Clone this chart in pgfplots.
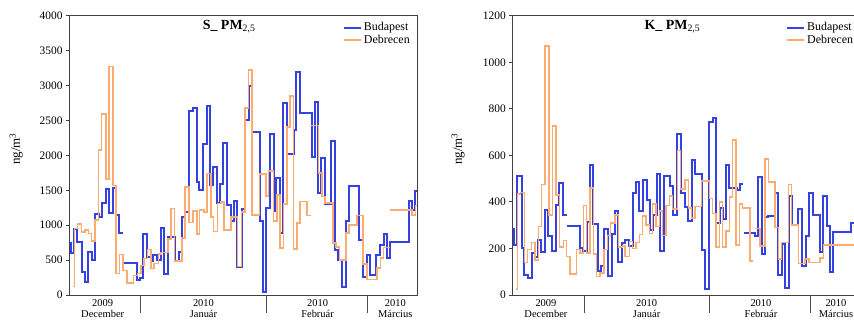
\documentclass[border=0pt]{standalone}
\usepackage{fontspec}
\setmainfont{Liberation Serif}
\usepackage{pgfplots}
\pgfplotsset{compat=1.18}
\definecolor{budablue}{RGB}{52,66,226}
\definecolor{debrorange}{RGB}{250,172,115}
\pgfplotsset{
 myaxis/.style={
  scale only axis, width=348bp, height=279.3bp, anchor=south west,
  axis line style={draw=black!75, line width=0.9bp},
  tick align=outside, xtick pos=bottom, ytick pos=left,
  major tick length=3bp,
  /pgf/number format/assume math mode=true,
  /pgf/number format/set thousands separator={},
  scaled y ticks=false,
  yticklabel style={font=\fontsize{11.5}{12}\selectfont},
  x tick style={draw=none},
  y tick style={line width=0.8bp, draw=black!75},
  xticklabel style={align=center, font=\fontsize{10.5}{11.5}\selectfont, inner sep=1bp},
  legend style={draw=none, fill=none, font=\fontsize{12}{13}\selectfont,
    at={(rel axis cs:0.994,0.99)}, anchor=north east, row sep=-1.5bp},
  legend cell align=left,
  ylabel style={at={(axis description cs:-0.152,0.523)}, anchor=center, font=\fontsize{13}{14}\selectfont},
  unbounded coords=jump, clip=false,
 },
}
\begin{document}
\begin{tikzpicture}
\useasboundingbox (0,0) rectangle (854bp,320bp);
\begin{axis}[myaxis, at={(69bp,25bp)},
  xmin=207, xmax=1250, ymin=0, ymax=4000, ytick={0,500,...,4000},
  xtick={308,610,952,1185},
  xticklabels={{2009\\December},{2010\\Január},{2010\\Február},{2010\\Március}},
  ylabel={ng/m\textsuperscript{3}}]
\addplot[const plot, draw=budablue, line width=2bp, line join=miter] coordinates {(207,740)(213,600)(222,940)(232,765)(245,335)(255,190)(265,620)(275,500)(285,1155)(297,1110)(307,1320)(317,1520)(328,1180)(340,1530)(348,1140)(358,890)(370,890)(370,nan)(372,455)(410,215)(420,250)(430,870)(442,540)(452,490)(458,580)(470,500)(482,960)(493,300)(505,830)(525,480)(537,620)(545,1120)(555,1190)(567,2630)(578,2680)(590,1620)(598,1510)(610,2160)(620,2700)(630,1570)(640,1840)(650,1313)(660,1590)(670,2170)(682,1290)(692,1060)(703,1350)(712,400)(724,1230)(735,2510)(745,3000)(755,2330)(778,1060)(788,50)(798,1250)(808,2310)(820,1210)(828,1680)(840,890)(848,2750)(860,2020)(880,2360)(888,3190)(900,2610)(935,1980)(943,2770)(953,1460)(963,1960)(973,1300)(993,2200)(1005,640)(1013,500)(1025,110)(1037,1060)(1047,1560)(1077,790)(1088,260)(1100,570)(1110,290)(1128,570)(1140,710)(1150,870)(1160,530)(1170,760)(1225,1350)(1236,1220)(1245,1490)(1250,1490)};
\addlegendentry{Budapest}
\addplot[const plot, draw=debrorange, line width=1.6bp, line join=miter] coordinates {(220,120)(223,950)(233,1020)(245,900)(255,930)(265,880)(275,770)(285,1070)(295,2080)(305,2590)(317,1660)(327,3270)(338,1570)(348,310)(358,580)(368,350)(380,170)(400,280)(412,310)(422,420)(432,520)(442,650)(452,380)(462,450)(475,590)(483,610)(503,800)(513,1240)(523,490)(545,820)(555,1550)(567,1040)(578,1200)(590,870)(598,1220)(612,1190)(620,1740)(632,1120)(640,910)(652,1310)(662,1330)(672,930)(692,1120)(712,410)(724,1190)(735,2680)(745,3220)(755,1150)(778,1730)(798,1420)(805,1780)(820,1060)(830,1430)(840,670)(850,1300)(860,2410)(870,2850)(880,660)(890,1030)(900,1340)(920,1140)(932,1140)(932,nan)(933,2430)(955,1745)(965,1408)(975,1315)(998,745)(1008,690)(1018,500)(1037,890)(1047,1000)(1070,1140)(1088,440)(1100,220)(1130,390)(1140,530)(1150,680)(1168,680)(1168,nan)(1170,1220)(1235,1150)(1245,1280)(1250,1280)};
\addlegendentry{Debrecen}
\node[anchor=center] at (rel axis cs:0.46,0.96) {\fontsize{14}{16}\selectfont{\bfseries S\_ PM}\textsubscript{2,5}};
\draw[black!70, line width=0.6bp] (axis cs:420,0) -- ([yshift=-18bp]axis cs:420,0) (axis cs:797,0) -- ([yshift=-18bp]axis cs:797,0) (axis cs:1100,0) -- ([yshift=-18bp]axis cs:1100,0);
\end{axis}
\begin{axis}[myaxis, at={(512.3bp,25bp)},
  xmin=247, xmax=1291, ymin=0, ymax=1200, ytick={0,200,...,1200},
  xtick={348,650,993,1218},
  xticklabels={{2009\\December},{2010\\Január},{2010\\Február},{2010\\Március}},
  ylabel={ng/m\textsuperscript{3}}, ylabel style={at={(axis description cs:-0.156,0.523)}}]
\addplot[const plot, draw=budablue, line width=2bp, line join=miter] coordinates {(247,285)(252,215)(262,511)(275,200)(283,85)(293,75)(305,180)(315,165)(323,235)(333,185)(345,365)(355,255)(365,190)(378,385)(388,480)(400,345)(410,345)(410,nan)(411,295)(450,200)(460,190)(470,315)(480,560)(490,305)(505,105)(512,125)(522,285)(535,80)(545,260)(555,360)(565,140)(575,225)(585,235)(598,210)(608,440)(618,485)(628,360)(640,495)(650,410)(660,280)(670,345)(680,520)(690,190)(702,510)(720,470)(730,345)(742,690)(752,440)(765,380)(775,320)(785,580)(795,520)(815,195)(825,25)(838,745)(848,760)(858,310)(870,375)(880,325)(888,560)(898,460)(920,450)(930,475)(940,475)(940,nan)(941,265)(975,255)(985,505)(995,175)(1005,335)(1015,340)(1035,440)(1045,85)(1055,220)(1065,30)(1077,425)(1085,300)(1105,370)(1115,125)(1127,255)(1137,440)(1150,345)(1170,185)(1180,425)(1192,295)(1200,100)(1210,270)(1262,310)(1291,310)};
\addlegendentry{Budapest}
\addplot[const plot, draw=debrorange, line width=1.6bp, line join=miter] coordinates {(258,25)(262,435)(272,440)(283,140)(293,195)(305,225)(315,150)(325,295)(335,475)(345,1070)(357,345)(367,725)(378,430)(388,205)(400,235)(410,165)(420,90)(440,195)(450,180)(460,385)(470,180)(480,460)(490,175)(500,80)(510,95)(522,195)(532,255)(542,310)(555,345)(565,205)(578,210)(585,165)(598,230)(608,200)(618,225)(628,260)(638,340)(648,300)(658,265)(668,390)(678,295)(688,360)(698,255)(708,385)(718,425)(728,370)(742,620)(752,455)(765,495)(775,375)(785,330)(795,380)(815,490)(838,415)(848,350)(858,205)(868,400)(878,205)(888,275)(898,420)(908,665)(918,215)(928,390)(938,375)(960,145)(970,145)(970,nan)(975,285)(990,210)(1005,585)(1015,485)(1035,290)(1045,155)(1055,225)(1075,475)(1085,300)(1105,135)(1125,155)(1137,140)(1170,160)(1180,215)(1291,215)};
\addlegendentry{Debrecen}
\node[anchor=center] at (rel axis cs:0.46,0.96) {\fontsize{14}{16}\selectfont{\bfseries K\_ PM}\textsubscript{2,5}};
\draw[black!70, line width=0.6bp] (axis cs:463,0) -- ([yshift=-18bp]axis cs:463,0) (axis cs:838,0) -- ([yshift=-18bp]axis cs:838,0) (axis cs:1140,0) -- ([yshift=-18bp]axis cs:1140,0);
\end{axis}
\end{tikzpicture}
\end{document}
